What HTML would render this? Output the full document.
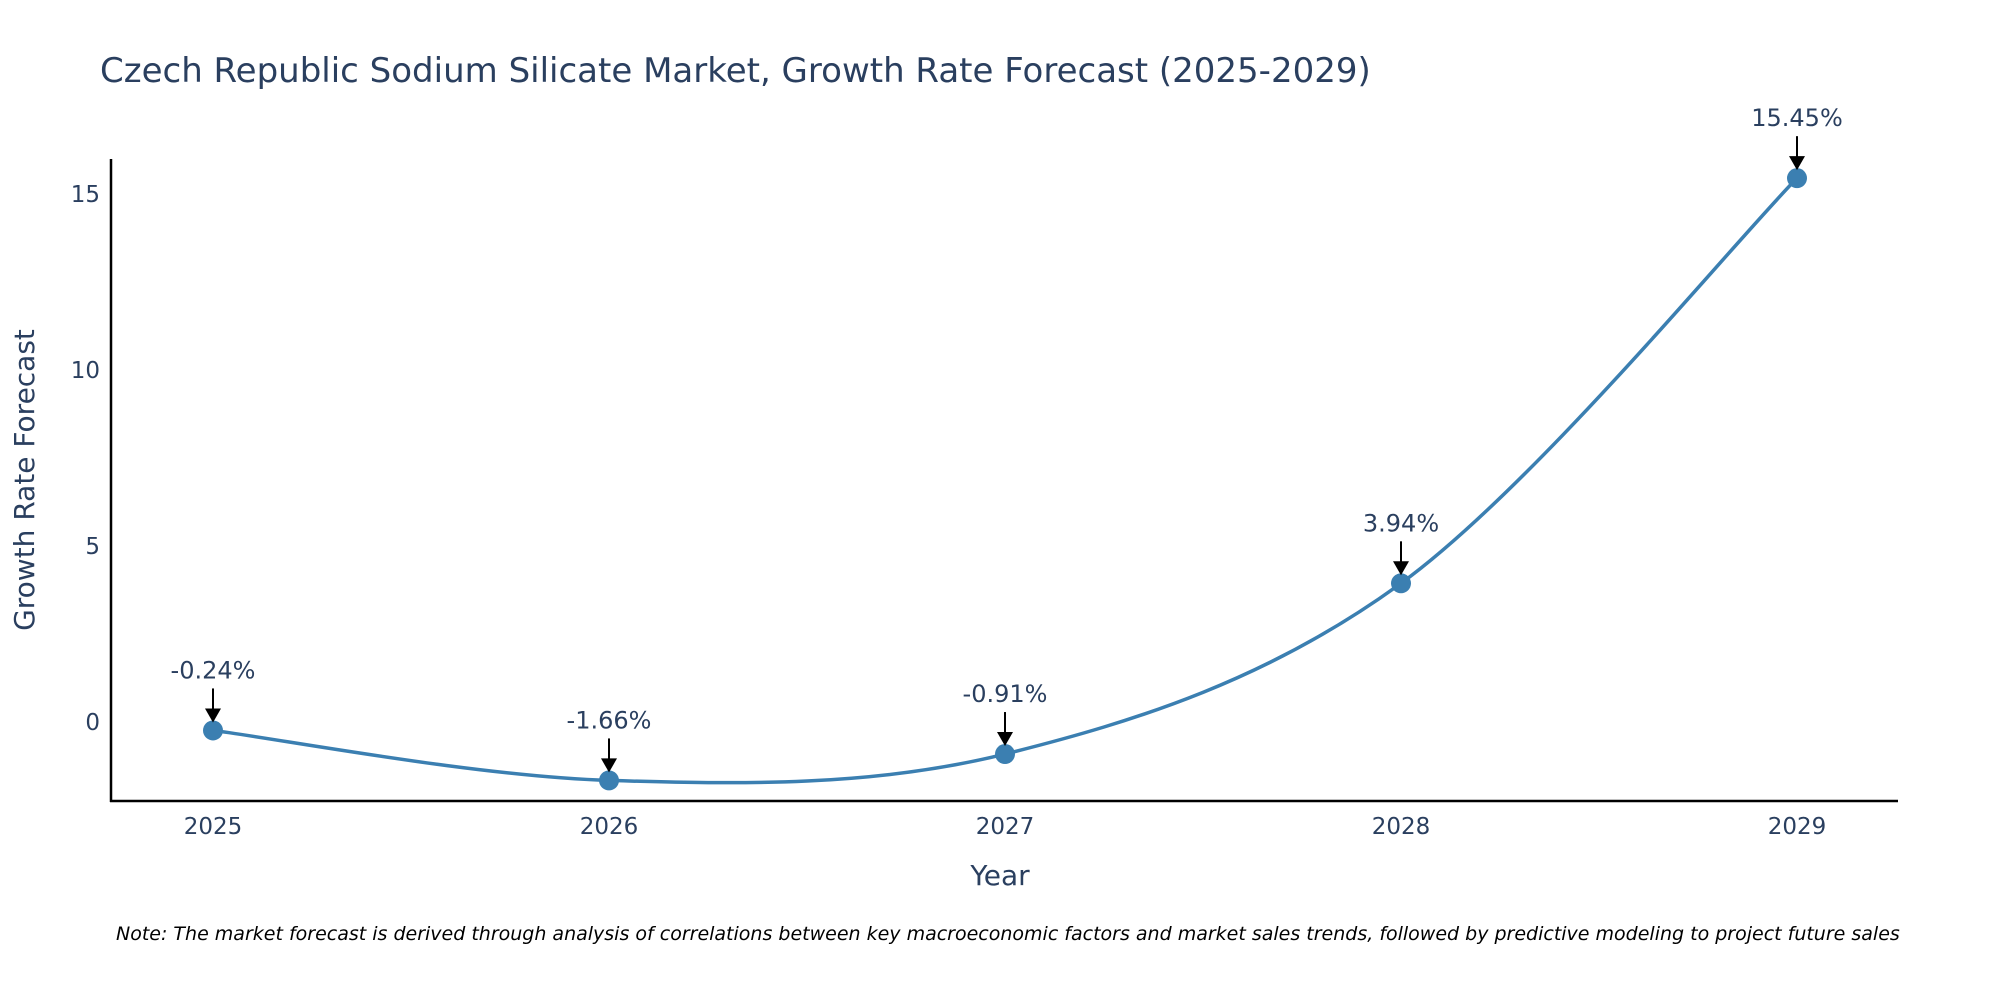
<!DOCTYPE html>
<html><head><meta charset="utf-8"><style>
body{margin:0;background:#fff;}
svg text{font-family:"DejaVu Sans","Liberation Sans",sans-serif;}
</style></head><body>
<svg id="chart" width="2000" height="1000" xmlns="http://www.w3.org/2000/svg">
<text x="100" y="82" font-size="34" fill="#2a3f5f">Czech Republic Sodium Silicate Market, Growth Rate Forecast (2025-2029)</text>
<g id="axes"></g>
<g id="marks"></g>
<text x="1000" y="885" font-size="28" fill="#2a3f5f" text-anchor="middle">Year</text>
<text transform="translate(34,480) rotate(-90)" font-size="28" fill="#2a3f5f" text-anchor="middle">Growth Rate Forecast</text>
<text x="116" y="940" font-size="19" font-style="italic" fill="#000">Note: The market forecast is derived through analysis of correlations between key macroeconomic factors and market sales trends, followed by predictive modeling to project future sales</text>
</svg>
<script>
const years = ["2025","2026","2027","2028","2029"];
const growth = [-0.24, -1.66, -0.91, 3.94, 15.45];
const labels = ["-0.24%","-1.66%","-0.91%","3.94%","15.45%"];
const yTicks = [0, 5, 10, 15];

const NS="http://www.w3.org/2000/svg";
const x0=213, xStep=396, yZero=722, yUnit=35.2;
const xs=i=>x0+i*xStep;
const ys=v=>yZero-v*yUnit;
function mk(tag,attrs,parent){const e=document.createElementNS(NS,tag);for(const k in attrs)e.setAttribute(k,attrs[k]);parent.appendChild(e);return e;}
const axes=document.getElementById('axes'), marks=document.getElementById('marks');

const ya=mk('line',{x1:111,y1:159,x2:111,y2:802,stroke:'#000','stroke-width':2.5},axes);


const xa=mk('line',{x1:110,y1:801,x2:1898,y2:801,stroke:'#000','stroke-width':2.5},axes);


yTicks.forEach(t=>{
  const tx=mk('text',{x:100,y:ys(t)+8,'font-size':23,fill:'#2a3f5f','text-anchor':'end'},axes);
  tx.textContent=t;
  
  
});
years.forEach((y,i)=>{
  const tx=mk('text',{x:xs(i),y:834,'font-size':23,fill:'#2a3f5f','text-anchor':'middle'},axes);
  tx.textContent=y;
  
  
});

const pts=growth.map((v,i)=>[xs(i),ys(v)]);
let d=`M${pts[0][0]},${pts[0][1]}`;
const s=0.5/3*2;
for(let i=0;i<pts.length-1;i++){
  const p0=pts[Math.max(i-1,0)],p1=pts[i],p2=pts[i+1],p3=pts[Math.min(i+2,pts.length-1)];
  const c1=[p1[0]+(p2[0]-p0[0])*s/2,p1[1]+(p2[1]-p0[1])*s/2];
  const c2=[p2[0]-(p3[0]-p1[0])*s/2,p2[1]-(p3[1]-p1[1])*s/2];
  d+=` C${c1[0]},${c1[1]} ${c2[0]},${c2[1]} ${p2[0]},${p2[1]}`;
}
const line=mk('path',{d:d,fill:'none',stroke:'#3b7fb1','stroke-width':3.5},marks);



pts.forEach((p,i)=>{
  const c=mk('circle',{cx:p[0],cy:p[1],r:10,fill:'#3b7fb1'},marks);
  
  
  const a=mk('line',{x1:p[0],y1:p[1]-42,x2:p[0],y2:p[1]-20,stroke:'#000','stroke-width':2},marks);
  
  
  const h=mk('polygon',{points:`${p[0]-8},${p[1]-22} ${p[0]+8},${p[1]-22} ${p[0]},${p[1]-8}`,fill:'#000'},marks);
  
  
  const t=mk('text',{x:p[0],y:p[1]-52,'font-size':24,fill:'#2a3f5f','text-anchor':'middle'},marks);
  t.textContent=labels[i];
  
  
});
</script>
</body></html>
